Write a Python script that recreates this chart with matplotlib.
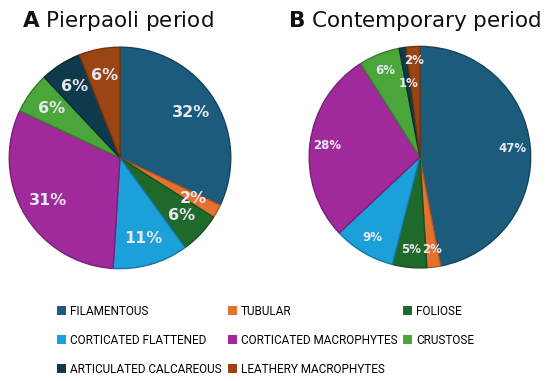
import numpy as np
import matplotlib
matplotlib.use("Agg")
import matplotlib.pyplot as plt
from matplotlib.patches import Patch
from matplotlib.colors import to_rgb

# categories and shares (%)
categories = ["FILAMENTOUS", "TUBULAR", "FOLIOSE", "CORTICATED FLATTENED",
              "CORTICATED MACROPHYTES", "CRUSTOSE", "ARTICULATED CALCAREOUS",
              "LEATHERY MACROPHYTES"]
pierpaoli = [32, 2, 6, 11, 31, 6, 6, 6]
contemporary = [47, 2, 5, 9, 28, 6, 1, 2]
titles = ["Pierpaoli period", "Contemporary period"]
panel_letters = ["A", "B"]

colors = ["#1b5b7c", "#e3712f", "#1f6a2a", "#1ba0d9",
          "#a02a9c", "#4aa63a", "#0f3a4c", "#9b4414"]


def darker(c, f=0.75):
    return tuple(v * f for v in to_rgb(c))


fig = plt.figure(figsize=(5.5, 3.81), dpi=100)

# pie axes placed to match the reference
ax_a = fig.add_axes([0.0127, 0.289, 0.411, 0.593])
ax_b = fig.add_axes([0.558, 0.291, 0.411, 0.593])

for ax, vals, pd, fs in [(ax_a, pierpaoli, 0.76, 11.5), (ax_b, contemporary, 0.84, 8.5)]:
    wedges, texts, autotexts = ax.pie(
        vals, colors=colors, startangle=90, counterclock=False,
        autopct="%.0f%%", pctdistance=pd,
        wedgeprops=dict(linewidth=1.0),
        textprops=dict(color="#e8e8f0", fontweight="bold", fontsize=fs))
    for w, c in zip(wedges, colors):
        w.set_edgecolor(darker(c))
    ax.set_xlim(-1.02, 1.02)
    ax.set_ylim(-1.02, 1.02)
    ax.set_aspect("equal")
    ax.axis("off")
    if ax is ax_b:
        # the 1% label sits further in than the others
        x, y = autotexts[6].get_position()
        autotexts[6].set_position((x * 0.8, y * 0.8))
        x, y = autotexts[7].get_position()
        autotexts[7].set_position((x * 1.04, y * 1.04))

for x0, letter, title in zip([0.04, 0.523], panel_letters, titles):
    fig.text(x0, 0.93, r"$\mathbf{%s}$ " % letter + title, fontsize=15.5, color="#111111")

# legend laid out row by row (matplotlib fills columns first)
handles = [Patch(facecolor=c, edgecolor="none") for c in colors]
order = [0, 3, 6, 1, 4, 7, 2, 5]
h = [handles[i] for i in order]
l = [categories[i] for i in order]
h.insert(8, Patch(alpha=0))
l.insert(8, "")
fig.legend(h, l, loc="upper left", bbox_to_anchor=(0.085, 0.228), ncol=3,
           frameon=False, handlelength=0.75, handleheight=0.75, handletextpad=0.35,
           columnspacing=0.5, labelspacing=1.35,
           prop=dict(family=["Roboto", "DejaVu Sans"], size=8.5))

fig.savefig("out.png", dpi=100, facecolor="white")
